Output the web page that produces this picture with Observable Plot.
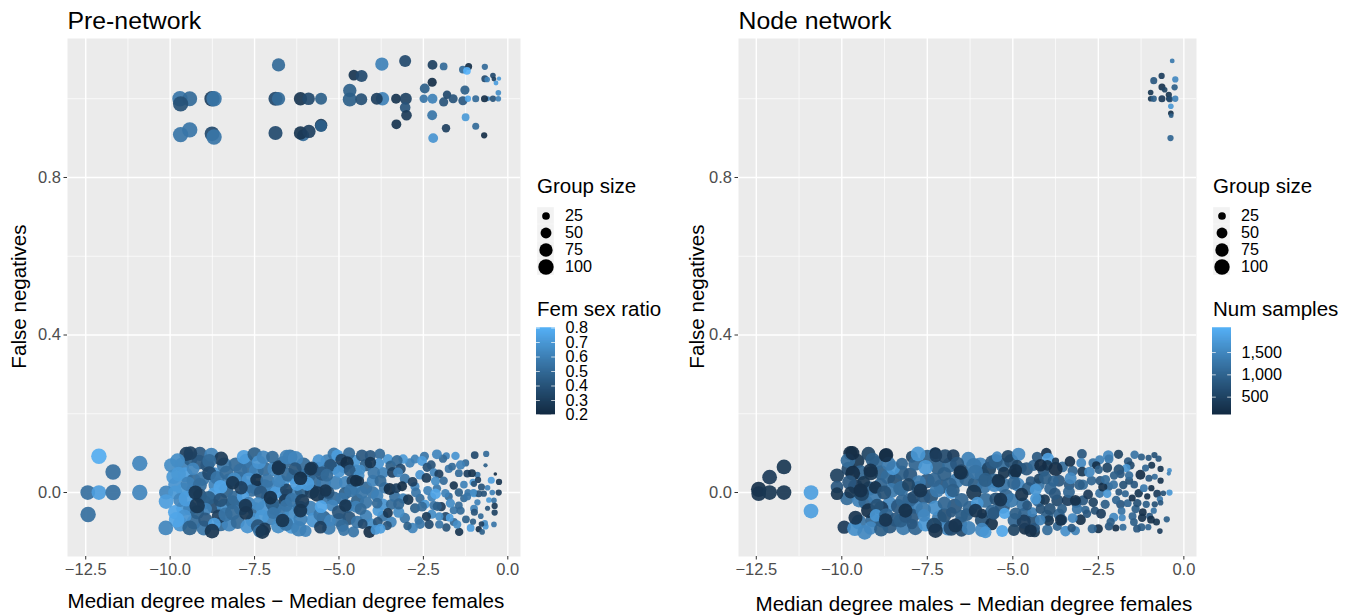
<!DOCTYPE html>
<html><head><meta charset="utf-8">
<script src="https://cdn.jsdelivr.net/npm/d3@7"></script>
<script src="https://cdn.jsdelivr.net/npm/@observablehq/plot@0.6"></script>
<style>
html,body{margin:0;padding:0;background:#fff;width:1352px;height:615px;overflow:hidden}
#root{position:relative;width:1352px;height:615px;font-family:"Liberation Sans",Arial,sans-serif}
#root>*{position:absolute}
.lt{font-size:20.5px;color:#000;white-space:nowrap;line-height:22px}
svg{overflow:visible;background:transparent}
</style></head><body><div id="root"></div>
<script>
// [median degree difference, false negatives, group size, fem sex ratio]
const preTop=[[-9.71,1,90,.55],[-9.42,1,85,.5],[-9.69,.987,90,.38],[-8.76,1,90,.3],[-8.7,1,90,.55],[-9.69,.909,90,.55],[-9.42,.921,90,.55],[-8.76,.911,83,.35],[-8.7,.903,90,.55],[-6.79,1.086,68,.5],[-6.88,1,76,.35],[-6.79,1,68,.5],[-6.88,.913,76,.35],[-6.14,1,68,.25],[-5.9,1,61,.35],[-5.53,1,55,.45],[-6.06,.907,55,.5],[-6.14,.913,68,.25],[-5.89,.917,68,.3],[-5.53,.933,60,.28],[-5.53,.931,55,.45],[-4.68,1.021,68,.45],[-4.68,.998,76,.45],[-4.56,1.06,43,.25],[-4.33,1.058,55,.35],[-4.34,.999,55,.38],[-3.73,1.088,68,.6],[-3.71,1,68,.6],[-3.88,1,55,.3],[-3.04,1.096,55,.35],[-3.31,1,37,.25],[-3.02,1,55,.32],[-3.04,.978,43,.4],[-3,.958,43,.28],[-3.3,.935,37,.25],[-2.46,1.026,37,.45],[-2.49,1,27,.55],[-2.23,1,37,.6],[-2.23,1.086,37,.3],[-1.9,1.082,23,.5],[-2.24,1.042,32,.22],[-2.24,.958,37,.55],[-2.21,.9,37,.68],[-1.83,.925,27,.3],[-1.9,.992,32,.4],[-1.8,1.01,27,.35],[-1.62,1,32,.4],[-1.33,1.074,23,.5],[-1.16,1.082,19,.22],[-1.21,1.071,23,.8],[-1.27,1.022,32,.45],[-1.33,.995,32,.42],[-1.18,1,15,.75],[-.95,1,19,.5],[-1.25,.953,23,.7],[-.95,.93,19,.5],[-.7,.907,15,.22],[-.68,1.081,15,.5],[-.44,1.059,12,.35],[-.41,1.05,9,.3],[-.68,1.051,19,.35],[-.61,1.049,12,.6],[-.26,1.051,7,.7],[-.35,1.04,9,.72],[-.28,1.015,12,.65],[-.59,1,9,.6],[-.69,1,19,.22],[-.44,1,15,.4],[-.28,1,12,.6]];
const preUnder=[[-9.9,.04,80,.7],[-9.65,.07,85,.6],[-9.4,.085,75,.45],[-9.55,.045,85,.72],[-9.3,.03,80,.5],[-9.85,.02,75,.68],[-9.6,.005,90,.7],[-9.3,.006,85,.6],[-9.05,.035,80,.55],[-8.9,.07,75,.4],[-8.7,.045,85,.68],[-8.65,.02,80,.6],[-8.4,.07,85,.55],[-8.25,.03,80,.6],[-8.35,.005,85,.45],[-8.7,-.005,75,.72],[-9.6,-.04,85,.7],[-9.85,-.05,80,.75],[-9.4,-.04,80,.6],[-9,-.025,85,.5],[-8.7,-.035,80,.35],[-8.4,-.035,85,.65],[-8.15,-.025,75,.45],[-9.7,-.08,85,.68],[-9.3,-.075,80,.5],[-9,-.09,85,.55],[-8.5,-.08,80,.5],[-8.25,-.08,85,.62],[-8,-.075,75,.5],[-7.9,-.04,80,.55],[-7.75,.015,85,.6],[-7.95,.035,80,.55],[-7.65,.06,85,.5],[-7.75,.08,80,.55],[-7.45,.055,85,.6],[-7.2,.06,80,.5],[-7.45,.012,80,.55],[-7.2,.015,85,.5],[-7.1,-.012,80,.6],[-7.5,-.043,85,.5],[-7.25,-.04,80,.68],[-7.05,-.065,85,.6],[-7.55,-.07,80,.65],[-6.9,-.04,75,.55],[-6.9,.06,85,.62],[-6.95,.012,80,.62],[-6.7,.025,85,.7],[-6.65,.075,75,.5],[-6.45,.09,85,.55],[-6.35,.04,80,.75],[-6.55,-.01,85,.4],[-6.3,-.005,85,.6],[-6.7,-.05,85,.55],[-6.4,-.05,80,.65],[-6.7,-.07,80,.62],[-6.4,-.085,90,.7],[-6.15,-.04,85,.55],[-6.1,.005,80,.45],[-6.05,.07,85,.5],[-5.9,.045,85,.35],[-5.75,.025,85,.5],[-5.8,.002,80,.3],[-5.85,-.04,85,.6],[-5.75,-.07,85,.68],[-5.6,.06,75,.55],[-5.45,.025,80,.55],[-5.35,.08,70,.6],[-5.4,-.012,80,.55],[-5.45,-.065,80,.48],[-5.3,-.09,70,.58],[-5.15,-.015,75,.5],[-5.1,.025,75,.6],[-5.15,.062,65,.65],[-5,-.07,75,.55],[-4.8,.025,70,.62],[-4.85,.065,60,.58],[-4.75,-.035,70,.6],[-4.7,-.065,70,.4],[-4.55,.08,60,.7],[-4.5,.055,60,.65],[-4.55,.01,65,.65],[-4.45,-.02,65,.45],[-4.2,-.06,60,.6],[-4.2,-.025,60,.55],[-4.2,.012,60,.5],[-4.2,.07,60,.45],[-4.05,-.08,50,.65],[-4,.03,55,.62],[-3.7,.05,50,.6],[-3.65,.012,50,.55],[-3.7,-.03,50,.68],[-3.7,-.06,48,.55],[-3.45,-.03,45,.5],[-3.45,-.075,45,.62],[-3.55,.085,40,.7],[-3.35,-.01,48,.52],[-3.1,-.015,40,.6],[-3.05,-.065,42,.55],[-3.05,.035,40,.55],[-2.9,.075,35,.6],[-3.1,.085,35,.7],[-2.75,.015,32,.62],[-2.6,.045,35,.68],[-2.75,.085,30,.6],[-2.6,-.015,32,.5],[-2.45,-.03,32,.7],[-2.25,-.012,30,.6],[-2.25,-.055,32,.65],[-2.1,.01,28,.55],[-1.75,.06,25,.55],[-1.75,-.01,25,.5],[-1.6,-.045,25,.55],[-1.6,-.075,25,.5],[-1.3,.02,22,.6],[-1.3,-.015,22,.5],[-1.25,.075,20,.5],[-.9,.045,15,.55],[-.9,-.025,15,.6],[-.8,-.06,12,.5],[-.6,.012,12,.6],[-.6,-.04,10,.4]];
const preBottom=[[-12.11,.092,91,.78],[-11.69,.052,91,.52],[-10.9,.074,91,.62],[-12.44,0,83,.52],[-12.11,0,83,.72],[-11.69,0,91,.52],[-10.9,0,91,.62],[-12.43,-.056,91,.52],
[-10.12,0,76,.62],[-9.85,0,76,.7],[-9.52,.098,76,.3],[-9.97,.069,76,.65],[-9.78,.081,83,.65],[-9.12,.098,76,.42],[-8.78,.096,76,.6],[-8.49,.086,76,.28],[-9.15,.077,83,.42],[-8.84,.08,76,.5],[-9.32,.06,61,.62],[-9.75,.047,83,.7],[-8.84,.049,76,.35],[-8.6,.037,76,.55],[-9.47,.022,83,.6],[-9.12,.019,76,.52],[-8.51,.014,76,.75],[-9.12,-.008,76,.4],[-8.86,-.014,76,.45],[-8.51,-.019,76,.38],[-9.7,-.019,76,.62],[-10.12,-.023,83,.72],[-9.52,-.016,91,.72],[-8.95,-.042,61,.6],[-9.2,-.05,76,.45],[-9.2,-.033,91,.25],[-9.58,-.061,76,.68],[-9.81,-.069,91,.75],[-8.96,-.069,76,.42],[-8.56,-.061,76,.3],[-8.36,-.056,76,.55],[-8.15,-.051,91,.5],[-10.13,-.09,83,.62],[-9.42,-.09,83,.45],[-8.69,-.08,61,.72],[-8.76,-.098,83,.25],
[-8.33,.05,76,.5],[-8.06,.071,76,.5],[-7.92,.056,76,.52],[-8.1,.033,76,.65],[-7.82,.09,76,.72],[-7.5,.097,76,.45],[-7.37,.077,76,.68],[-7.24,.09,68,.62],[-6.97,.09,61,.5],[-6.78,.064,76,.25],[-7.67,.033,76,.68],[-7.44,.032,61,.22],[-7.12,.03,76,.55],[-8.08,-.014,83,.5],[-7.59,.005,61,.52],[-7.32,0,68,.42],[-7.84,-.01,61,.72],[-7.67,-.027,61,.6],[-7.4,-.029,68,.65],[-6.97,-.027,76,.45],[-6.87,0,61,.72],[-6.56,.007,61,.32],[-6.6,-.02,61,.28],[-7.75,-.052,76,.25],[-7.28,-.061,76,.7],[-6.95,-.052,55,.55],[-6.56,-.033,61,.55],[-7.71,-.086,76,.68],[-7.4,-.086,76,.4],[-7.2,-.092,61,.28],[-7.36,-.098,61,.55],[-6.8,-.086,76,.65],[-6.56,-.08,76,.55],[-6.78,.03,70,.62],[-6.55,.09,80,.6],[-6.5,.045,76,.5],[-7.9,.012,70,.3],
[-6.29,.086,91,.62],[-5.6,.081,61,.68],[-5.8,.062,68,.3],[-5.15,.098,61,.55],[-5.05,.094,55,.72],[-4.7,.1,55,.5],[-4.93,.083,55,.3],[-4.76,.075,68,.22],[-4.32,.094,55,.42],[-4.07,.094,48,.42],[-3.79,.098,43,.5],[-3.82,.074,43,.68],[-5.25,.069,61,.38],[-5.5,.048,76,.42],[-5.36,.044,61,.5],[-5,.053,55,.68],[-4.68,.056,55,.42],[-4.36,.058,37,.65],[-4.41,.043,48,.65],[-4.6,.029,55,.32],[-4.4,.029,37,.25],[-3.97,.05,61,.55],[-3.77,.029,55,.5],[-3.47,.068,43,.45],[-3.28,.081,48,.5],[-3.42,.051,43,.3],[-3.18,.06,43,.35],[-3.25,.051,37,.62],[-6.06,.044,55,.55],[-5.94,.022,76,.72],[-6.24,.022,76,.72],[-6.3,.06,68,.4],[-6.39,-.019,76,.55],[-6.09,-.022,76,.28],[-5.64,-.004,91,.25],[-5.32,0,61,.4],[-4.82,-.002,61,.45],[-4.92,-.016,61,.55],[-4.32,0,61,.55],[-4.65,.005,68,.55],[-4,0,60,.55],[-3.87,-.008,61,.6],[-3.5,.009,55,.22],[-3.3,.011,37,.3],[-3.13,.016,37,.22],[-2.82,.027,37,.3],[-2.95,-.018,43,.25],[-2.72,0,37,.55],[-2.37,.005,32,.6],[-2.14,-.003,43,.75],[-1.85,-.002,27,.6],[-1.45,0,27,.45],[-1.6,.018,27,.25],[-1.18,0,19,.55],[-1,-.002,23,.7],[-.71,-.003,15,.4],[-.46,0,12,.6],[-.27,0,15,.3],[-.37,.047,5,.22],[-.26,.027,15,.25],[-.49,.031,19,.72],[-.56,-.019,12,.7],[-.41,-.02,12,.55],[-.39,-.034,15,.28],[-.39,-.051,15,.32],[-.41,-.081,12,.55],[-.66,-.086,15,.7],[-.68,-.078,15,.65],[-.86,-.093,15,.22],[-.76,-.1,12,.45],[-.78,-.08,12,.3],[-1.1,-.09,23,.72],[-1.03,-.074,15,.45],[-1.24,-.068,23,.45],[-1.44,-.1,27,.25],[-1.5,-.081,27,.65],[-1.82,-.089,27,.4],[-2.03,-.081,27,.55],[-2.33,-.081,32,.35],[-2.6,-.08,37,.55],[-2.82,-.09,43,.62],[-2.97,-.085,27,.45],[-3.57,-.084,32,.4],[-3.85,-.075,37,.4],[-4.1,-.1,55,.22],[-3.92,-.095,37,.68],[-3.77,-.092,37,.72],[-4.46,-.075,61,.55],[-4.3,-.08,37,.35],[-4.57,-.1,48,.55],[-4.9,-.084,61,.5],[-4.86,-.096,48,.55],[-5.27,-.071,55,.62],[-5.55,-.088,61,.3],[-5.99,-.098,55,.62],[-6.19,-.092,91,.6],[-6.14,-.067,76,.6],[-5.57,-.056,61,.55],[-5.2,-.033,55,.62],[-5.53,-.036,61,.75],[-5,-.05,76,.4],[-4.5,-.036,55,.6],[-4.36,-.042,55,.5],[-3.85,-.046,43,.7],[-3.87,-.027,43,.5],[-3.55,-.052,37,.25],[-3.23,-.05,48,.65],[-3.23,-.029,48,.48],[-2.75,-.04,37,.45],[-2.54,-.036,37,.5],[-2.41,-.061,32,.28],[-2.64,-.071,27,.55],[-2.19,-.033,32,.55],[-1.97,-.036,32,.28],[-2.09,-.035,32,.45],[-1.84,-.061,32,.35],[-2.03,-.061,27,.65],[-1.72,-.064,23,.72],[-1.7,-.027,32,.65],[-1.4,-.046,27,.5],[-1.45,-.033,23,.5],[-1,-.041,23,.6],[-.99,-.05,19,.4],[-1.2,-.01,23,.55],[-.86,-.003,19,.4],[-1.02,0,19,.65],[-1.03,.026,19,.7],[-.88,.032,15,.3],[-1,.022,15,.4],[-.78,.014,19,.4],[-1.2,.048,23,.3],[-1.06,.049,23,.25],[-.98,.095,23,.35],[-.64,.098,15,.5],[-.66,.069,7,.45],[-1.45,.049,23,.5],[-1.4,.07,32,.6],[-1.65,.066,23,.5],[-1.55,.093,27,.68],[-1.82,.093,19,.6],[-1.92,.086,27,.5],[-2.1,.097,37,.62],[-2.47,.092,32,.55],[-2.54,.08,37,.72],[-2.39,.064,32,.38],[-2.27,.07,32,.4],[-2.19,.051,27,.62],[-2.04,.047,32,.3],[-2.41,.037,37,.28],[-2.14,.029,32,.65],[-1.9,.03,27,.5]];
const preDark=[[-6.79,.061,70,.25],[-6.14,.036,70,.22],[-5.4,.005,60,.25],[-6.67,-.071,70,.25],[-7.77,-.033,70,.25],[-7.27,-.1,75,.25],[-4.81,-.033,60,.25],[-5.84,.06,65,.25],[-4.5,.03,55,.22],[-8.15,.025,70,.25],[-9.4,.1,70,.3],[-9.25,0,75,.25],[-7.03,-.013,70,.22],[-6.14,-.046,70,.25],[-4.07,.076,50,.25]];
const nodeTop=[[-.34,1.096,9,1300],[-.65,1.058,15,400],[-.88,1.046,19,800],[-.25,1.049,15,1500],[-.27,1.029,15,900],[-.64,1.03,19,250],[-.56,1.023,12,500],[-.44,1.01,15,300],[-.97,1.016,12,300],[-.97,1,12,300],[-.88,1,15,900],[-.64,1,19,350],[-.44,1,12,300],[-.41,.999,15,600],[-.25,1,15,1400],[-.38,.981,12,1700],[-.38,.963,12,200],[-.37,.957,9,900],[-.39,.9,15,1000]];
// [median degree difference, false negatives, group size, num samples]
const nodeUnder=[[-9.8,.06,80,600],[-9.55,.08,80,300],[-9.45,.05,85,1000],[-9.6,.015,85,350],[-9.2,.01,80,900],[-9.85,-.015,70,1100],[-9.5,-.02,75,1400],[-9.3,-.025,80,1000],[-9.05,-.01,80,1300],[-8.85,.05,85,900],[-9,.075,75,1100],[-8.65,.04,85,1100],[-8.45,.03,85,700],[-8.55,.005,85,1300],[-8.25,.05,80,900],[-8.25,.01,85,1200],[-8.6,-.03,85,1500],[-8.35,-.035,80,800],[-8.1,-.04,85,1000],[-7.85,-.035,85,1400],[-8.85,-.04,80,400],[-9.5,-.075,85,1200],[-9.1,-.07,80,1000],[-8.6,-.085,85,800],[-8.2,-.09,80,1300],[-7.95,-.06,85,800],[-7.85,-.09,80,1000],[-7.55,-.08,85,1700],[-7.75,.01,85,900],[-7.5,.03,85,800],[-7.5,.09,80,900],[-7.2,.065,85,900],[-7.4,-.01,85,700],[-7.1,.015,85,800],[-7.15,-.065,85,1300],[-6.9,-.09,85,1500],[-6.85,.07,85,1100],[-6.65,.03,85,1300],[-6.85,.02,80,1000],[-6.7,-.035,85,800],[-6.55,-.08,85,1100],[-6.25,-.04,85,1000],[-6.35,.035,85,1000],[-6.3,.085,80,1400],[-6.1,.02,85,900],[-5.95,.07,85,1500],[-5.9,.045,85,1000],[-5.7,.06,80,500],[-5.85,.015,80,1200],[-5.8,-.02,85,1100],[-5.6,-.05,85,1000],[-5.9,-.07,80,700],[-5.55,.03,80,1000],[-5.3,.02,85,1200],[-5.3,.07,75,1100],[-5.2,-.01,85,1000],[-5.3,-.035,85,800],[-5.05,-.02,80,1300],[-5.05,.08,75,700],[-4.95,.05,70,1100],[-4.95,-.07,75,1000],[-4.85,.02,70,1500],[-4.6,.06,65,800],[-4.55,.01,65,900],[-4.7,-.03,70,1200],[-4.65,-.055,70,1000],[-4.4,-.07,60,700],[-4.25,-.02,65,1000],[-4.25,.02,60,1200],[-4.1,.055,55,800],[-4,-.06,60,900],[-3.9,.01,60,1000],[-3.65,.03,55,800],[-3.7,-.02,55,600],[-3.65,-.055,50,1000],[-3.55,.065,45,1100],[-3.4,-.02,50,400],[-3.35,.02,45,800],[-3.25,.055,40,1000],[-3.15,-.025,45,700],[-2.95,.02,40,1100],[-2.95,-.02,40,800],[-2.7,.03,35,1000],[-2.65,.075,35,1200],[-2.65,-.025,35,500],[-2.45,.03,32,800],[-2.3,-.03,32,900],[-2.2,.015,30,1000],[-2.05,.02,28,1200],[-1.85,-.03,30,800],[-1.6,.03,25,700],[-1.45,.02,22,800],[-1.5,-.06,24,1000],[-1.1,-.03,20,900],[-1,-.06,18,800],[-.85,.04,14,1100],[-.85,-.03,15,700]];
const nodeBottom=[[-12.43,.008,91,200],[-12.43,-.003,83,250],[-12.11,.039,83,350],[-12.11,0,83,300],[-11.69,.065,83,300],[-11.69,0,83,300],[-10.9,0,83,1800],[-10.9,-.047,83,1800],
[-10.14,.043,76,450],[-10.14,.014,61,800],[-10.14,-.003,61,300],[-9.93,-.088,68,350],[-9.62,-.091,91,1600],[-9.33,-.101,83,1500],[-9.16,-.09,68,1500],[-8.85,-.094,76,900],[-9.75,.1,76,150],[-9.82,.081,83,1100],[-9.68,.049,83,150],[-9.78,.026,76,800],[-9.75,0,55,300],[-9.42,-.003,83,500],[-9.6,-.064,76,250],[-9.22,.098,76,500],[-9.1,.083,76,900],[-9.15,.049,76,300],[-9.36,.026,61,300],[-9.22,-.046,83,200],[-8.97,-.033,68,700],[-8.87,.019,76,1000],[-8.7,.095,76,150],[-8.5,.062,76,1700],[-8.63,.073,76,1300],[-9.02,.013,61,200],[-8.76,0,76,700],[-8.82,-.071,76,900],[-9,-.058,61,1700],[-8.7,-.058,76,1000],[-8.43,-.069,76,800],[-8.28,-.071,76,900],[-8.14,-.061,61,800],[-7.95,-.08,43,800],[-8.24,.073,55,1000],[-8,.045,76,800],[-7.95,.091,55,500],[-7.85,.073,76,1000],[-7.77,.098,83,1700],[-7.28,.098,61,1300],[-7.26,.1,55,200],[-7.55,.064,83,1700],[-7.75,.026,76,1300],[-8.02,-.019,76,1000],[-8.24,-.02,61,1000],[-7.9,-.012,61,600],[-7.6,-.012,61,800],[-7.27,-.039,83,1600],[-7.62,-.044,91,1300],[-7.6,-.058,61,1500],[-7.3,-.084,91,500],[-7,-.058,76,700],[-6.8,-.05,43,800],[-6.8,-.09,91,600],[-6.5,-.097,55,600],[-7.22,.005,76,1300],[-7,-.027,68,1000],[-6.8,0,61,1800],[-7.3,.032,76,1000],[-7,.047,76,900],[-6.98,.092,76,600],[-7.25,.093,61,400],[-6.74,.094,61,400],[-6.63,.073,76,800],[-6.5,.052,91,600],[-6.5,-.019,76,1000],[-6.75,.005,70,900],[-6.5,-.06,60,900],[-8.3,.01,70,1100],[-8.05,.02,65,500],
[-6.14,.068,91,1300],[-6.09,.052,83,1200],[-5.6,.077,76,800],[-5.5,.08,76,900],[-5.46,.091,43,1500],[-5.26,.05,55,300],[-5.14,.092,61,500],[-4.83,.097,68,1500],[-4.87,.07,43,500],[-4.92,.05,43,200],[-4.75,.062,43,800],[-4.39,.069,48,1000],[-4.29,.09,43,800],[-4.02,.1,43,200],[-3.97,.086,55,1800],[-3.99,.069,43,300],[-3.75,.06,76,150],[-3.75,.08,19,300],[-3.33,.079,43,200],[-2.98,.098,37,800],[-3,.075,37,1500],[-2.97,.053,37,300],[-2.76,.052,43,1500],[-3.31,.036,55,1500],[-3.82,.029,48,1000],[-4.48,.029,37,800],[-4.24,.035,37,500],[-4.05,.037,61,900],[-4.97,.024,68,1000],[-5.54,.019,76,1500],[-5.8,.032,76,900],[-6.14,0,91,300],[-6.04,-.027,61,1700],[-5.5,-.016,61,700],[-4.74,-.005,68,250],[-4.33,.007,55,1700],[-3.77,-.003,55,800],[-3.36,.001,55,1000],[-3.05,.02,43,900],[-2.8,-.005,37,350],[-2.46,-.002,32,1200],[-2.37,.014,32,200],[-2.24,-.003,27,1700],[-1.9,.001,19,800],[-1.71,-.003,19,1000],[-1.32,-.002,27,300],[-1.07,-.01,15,200],[-.95,.011,15,200],[-1.17,.011,23,1300],[-.78,-.003,23,400],[-.6,-.002,12,700],[-.42,0,15,1700],[-.7,-.017,15,1300],[-.68,-.026,12,800],[-.88,-.046,15,1200],[-.5,-.068,15,900],[-.7,-.098,12,400],[-.8,-.075,19,300],[-.96,-.069,23,200],[-1.22,-.064,27,250],[-1.2,-.05,23,200],[-1.04,-.088,15,1000],[-1.24,-.088,23,900],[-1.37,-.092,23,800],[-1.46,-.075,23,900],[-1.41,-.042,27,900],[-1.36,-.027,27,700],[-1.64,-.027,23,1000],[-1.78,-.088,19,1100],[-1.99,-.09,19,200],[-2.19,-.086,27,800],[-2.5,-.092,32,200],[-2.68,-.092,32,1000],[-2.88,-.044,27,1000],[-3.02,-.069,43,200],[-3.25,-.065,37,1500],[-3.46,-.098,43,1600],[-3.17,-.097,32,1400],[-3.28,-.09,27,800],[-3.7,-.086,32,1000],[-3.99,-.095,43,1100],[-4.36,-.1,43,300],[-4.65,-.092,55,200],[-4.68,-.074,76,400],[-4.36,-.09,43,800],[-3.95,-.071,43,300],[-3.56,-.069,43,800],[-4.2,-.07,43,1400],[-5.31,-.098,55,1900],[-4.97,-.095,55,500],[-5.62,-.08,61,200],[-5.9,-.095,76,1500],[-5.8,-.101,55,1700],[-6.29,-.09,76,1400],[-6.34,-.056,61,900],[-5.56,-.053,61,800],[-5.24,-.053,48,1900],[-4.92,-.053,55,900],[-5.9,-.054,37,200],[-4.43,-.05,37,1400],[-4.19,-.042,37,700],[-3.92,-.042,55,700],[-4.07,-.018,43,300],[-4.33,-.016,48,1700],[-4.58,-.033,37,800],[-3.56,-.042,37,900],[-3.12,-.042,43,1200],[-2.83,-.054,27,800],[-2.6,-.046,27,700],[-2.42,-.054,37,400],[-2.05,-.063,32,1500],[-1.82,-.047,23,1200],[-1.8,-.064,19,1500],[-2.14,-.075,27,900],[-1.98,-.019,27,1000],[-1.51,-.014,19,200],[-1.27,.045,37,150],[-1.02,.036,19,800],[-.94,.069,19,300],[-.68,.06,15,300],[-.68,.03,15,250],[-.42,.056,9,1600],[-.44,.048,7,1400],[-1.44,.096,27,1200],[-1.24,.09,19,900],[-1.03,.088,15,800],[-.86,.095,15,700],[-.74,.086,15,800],[-1.63,.079,27,800],[-1.56,.069,27,600],[-1.68,.062,27,1700],[-1.12,.062,19,1000],[-1.91,.097,32,500],[-2.21,.094,43,1500],[-2.19,.085,32,1300],[-2.46,.083,32,1400],[-2.56,.069,27,200],[-2.24,.063,37,500],[-2.49,.058,27,900],[-1.9,.058,43,700],[-1.85,.047,27,800],[-2.29,.033,32,1100],[-1.6,.043,27,1100],[-1.77,.019,27,700],[-2.04,.043,27,900]];
const nodeDark=[[-9.69,.1,75,150],[-9.16,.056,75,200],[-8.72,.094,70,150],[-8.14,-.046,75,200],[-8.72,-.07,70,250],[-7.26,-.097,80,250],[-6.53,.051,75,200],[-5.42,.03,70,200],[-5.36,-.018,70,250],[-4.92,.056,65,200],[-4.19,.069,60,150],[-4.48,-.097,60,200],[-3.6,-.07,50,200],[-3.17,-.02,45,200],[-6.68,-.084,75,250],[-6.09,-.046,70,250],[-9.45,.005,75,200],[-7.7,.005,75,250]];
const groupSizes=[25,50,75,100];
const ratioDomain=[.2,.8], ratioTicks=[.2,.3,.4,.5,.6,.7,.8];
const samplesDomain=[100,2050], sampleTicks=[500,1000,1500];
const xMajor=[-12.5,-10,-7.5,-5,-2.5,0], xMinor=[-11.25,-8.75,-6.25,-3.75,-1.25];
const yMajor=[0,.4,.8], yMinor=[.2,.6,1];
const lowColor="#132B43", highColor="#56B1F7";
const xLabel="Median degree males \u2212 Median degree females", yLabel="False negatives";
const rScale={type:"sqrt",domain:[0,100],range:[0,8.1]};
const root=document.getElementById("root");
const place=(el,l,t)=>{el.style.left=l+"px";el.style.top=t+"px";root.appendChild(el);return el;};
function panel(o){
  const p=Plot.plot({width:o.right+10,height:615,marginLeft:o.left,marginRight:10,marginTop:38,marginBottom:59,
    style:{background:"transparent",fontFamily:"Liberation Sans"},
    x:{domain:o.xDomain,range:[o.left,o.right]},
    y:{domain:[-.1625,1.153]},
    r:rScale,
    color:{type:"linear",domain:o.colorDomain,range:[lowColor,highColor],interpolate:d3.interpolateLab},
    marks:[
      Plot.frame({fill:"#EBEBEB",stroke:null}),
      Plot.ruleX(xMinor,{stroke:"#fff",strokeWidth:.7}),
      Plot.ruleY(yMinor,{stroke:"#fff",strokeWidth:.7}),
      Plot.ruleX(xMajor,{stroke:"#fff",strokeWidth:1.4}),
      Plot.ruleY(yMajor,{stroke:"#fff",strokeWidth:1.4}),
      Plot.dot(o.data,{x:d=>d[0],y:d=>d[1],r:d=>d[2],fill:d=>d[3],fillOpacity:.92,sort:null}),
      Plot.axisX(xMajor,{anchor:"bottom",tickSize:3.5,tickPadding:3,fontSize:16.5,fill:"#4D4D4D",stroke:"#333",label:null,tickFormat:d3.format(".1f")}),
      Plot.axisY(yMajor,{anchor:"left",tickSize:3.5,tickPadding:3,fontSize:16.5,fill:"#4D4D4D",stroke:"#333",label:null,tickFormat:d3.format(".1f")}),
      Plot.text([o.title],{frameAnchor:"top-left",dy:-17,dx:0,text:d=>d,fontSize:24.8,fill:"#000",lineAnchor:"middle",textAnchor:"start"}),
      Plot.text([xLabel],{frameAnchor:"bottom-left",dx:o.xLabelDx,dy:o.xLabelDy,text:d=>d,fontSize:20.6,fill:"#000",lineAnchor:"middle",textAnchor:"start"}),
      Plot.text([yLabel],{frameAnchor:"left",dx:o.yLabelDx,dy:-1,text:d=>d,fontSize:20.6,fill:"#000",rotate:-90,lineAnchor:"middle",textAnchor:"middle"})
    ]});
  return place(p,o.originX,0);
}
function sizeLegend(x){
  const t=document.createElement("div");t.className="lt";t.textContent="Group size";place(t,x,175);
  const p=Plot.plot({width:90,height:71,margin:0,style:{background:"transparent",fontFamily:"Liberation Sans"},
    x:{type:"band",domain:["k"],range:[0,17.7],padding:0,axis:null},
    y:{type:"band",domain:groupSizes,range:[0,71],padding:0,axis:null},
    r:{type:"sqrt",domain:[0,100],range:[0,7.7]},
    marks:[
      Plot.cell(groupSizes,{x:()=>"k",y:d=>d,fill:"#F2F2F2",inset:.2}),
      Plot.dot(groupSizes,{x:()=>"k",y:d=>d,r:d=>d,fill:"#000",sort:null}),
      Plot.text(groupSizes,{x:()=>"k",y:d=>d,text:d=>String(d),dx:19,dy:0,textAnchor:"start",fontSize:16.2,fill:"#000"})
    ]});
  place(p,x,205);
}
function colorLegend(x,title,domain,ticks,fmt){
  const t=document.createElement("div");t.className="lt";t.textContent=title;place(t,x,298);
  const n=90, dv=(domain[1]-domain[0])/n, steps=d3.range(n).map(i=>domain[0]+dv*i);
  const p=Plot.plot({width:120,height:88,margin:0,style:{background:"transparent",fontFamily:"Liberation Sans"},
    x:{domain:[0,1],range:[0,19],axis:null},
    y:{domain,range:[87.5,.5],axis:null},
    color:{type:"linear",domain,range:[lowColor,highColor],interpolate:d3.interpolateLab},
    marks:[
      Plot.rect(steps,{x1:0,x2:1,y1:d=>d,y2:d=>Math.min(d+dv*2,domain[1]),fill:d=>d}),
      Plot.ruleY(ticks,{x1:0,x2:.2,stroke:"#fff",strokeWidth:.7}),
      Plot.ruleY(ticks,{x1:.8,x2:1,stroke:"#fff",strokeWidth:.7}),
      Plot.text(ticks,{x:1,y:d=>d,text:fmt,dx:10,textAnchor:"start",fontSize:16.2,fill:"#000"})
    ]});
  place(p,x-1,327);
}
panel({data:[...preTop,...preUnder,...preBottom,...preDark],title:"Pre-network",left:67,right:520,originX:0,xDomain:[-13.04,.376],colorDomain:ratioDomain,xLabelDx:0,xLabelDy:45,yLabelDx:-48});
panel({data:[...nodeTop,...nodeUnder,...nodeBottom,...nodeDark],title:"Node network",left:69,right:527,originX:669,xDomain:[-13.02,.37],colorDomain:samplesDomain,xLabelDx:17,xLabelDy:48,yLabelDx:-41});
sizeLegend(537);colorLegend(537,"Fem sex ratio",ratioDomain,ratioTicks,d=>d.toFixed(1));
sizeLegend(1213);colorLegend(1213,"Num samples",samplesDomain,sampleTicks,d=>d3.format(",")(d));
</script></body></html>
